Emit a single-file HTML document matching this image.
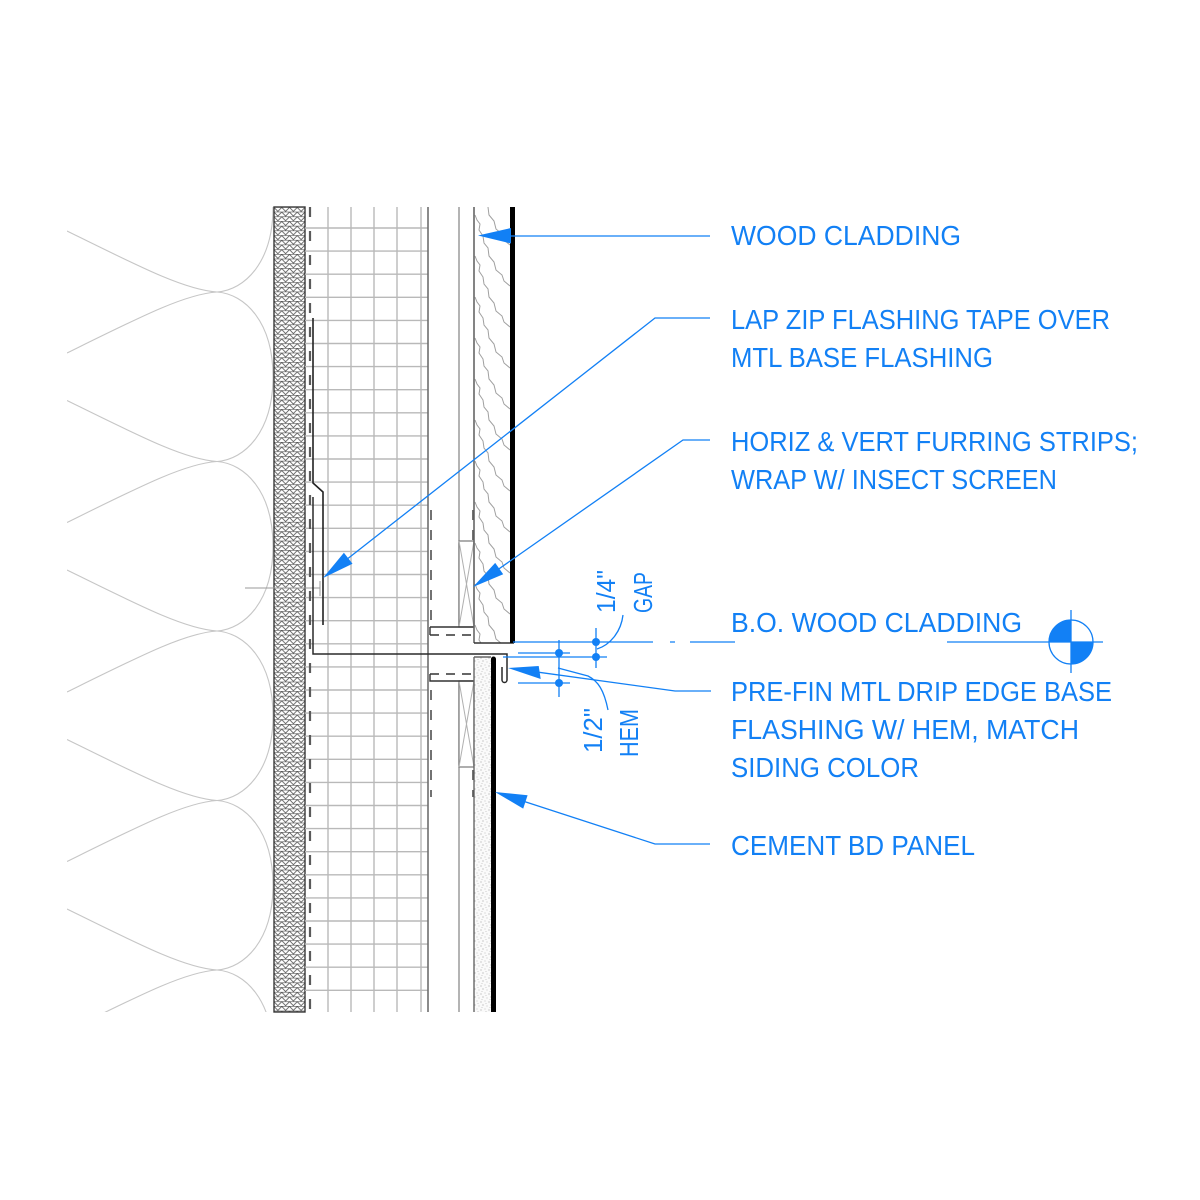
<!DOCTYPE html>
<html>
<head>
<meta charset="utf-8">
<style>
html,body{margin:0;padding:0;background:#fff;}
svg{display:block;}
</style>
</head>
<body>
<svg xmlns="http://www.w3.org/2000/svg" width="1200" height="1200" viewBox="0 0 1200 1200">
<defs>
  <pattern id="hatch" patternUnits="userSpaceOnUse" x="274" y="207" width="7.75" height="4.7">
    <rect width="7.75" height="4.7" fill="#fff"/>
    <path d="M0,0.2H7.75 M0,0.4 L3.875,4.4 L7.75,0.4" stroke="#4f4f4f" stroke-width="0.8" fill="none"/>
  </pattern>
  <pattern id="stip" patternUnits="userSpaceOnUse" width="8" height="8">
    <rect width="8" height="8" fill="#fafafa"/>
    <circle cx="1" cy="2" r="0.6" fill="#aaa"/>
    <circle cx="5" cy="1" r="0.55" fill="#b5b5b5"/>
    <circle cx="3" cy="5" r="0.6" fill="#a8a8a8"/>
    <circle cx="7" cy="6" r="0.55" fill="#b5b5b5"/>
    <circle cx="2" cy="7.5" r="0.5" fill="#bdbdbd"/>
    <circle cx="6" cy="3.5" r="0.5" fill="#bdbdbd"/>
  </pattern>
  <clipPath id="insClip"><rect x="67" y="207" width="207" height="805"/></clipPath>
  <clipPath id="woodClip"><rect x="474" y="207" width="36" height="436"/></clipPath>
  <path id="grain" d="M475,0 L477,5 L480,9 L479,15 L483,21 L484,28 L488,33 L489,41 L494,47 L496,55 L502,60 L504,66 L510,71" fill="none" stroke="#a0a0a0" stroke-width="1"/>
</defs>

<rect width="1200" height="1200" fill="#fff"/>

<!-- Batt insulation -->
<g clip-path="url(#insClip)" fill="none" stroke="#c6c6c6" stroke-width="1.1">
  <path d="M217,122.5 C245,124.5 273,152.5 273,207.25 C273,262 245,290 217,292"/>
  <path d="M217,292 C185,290 140,267 67,231"/>
  <path d="M217,292 C185,294 140,317 67,353"/>
  <path d="M217,292 C245,294 273,322 273,376.75 C273,431.5 245,459.5 217,461.5"/>
  <path d="M217,461.5 C185,459.5 140,436.5 67,400.5"/>
  <path d="M217,461.5 C185,463.5 140,486.5 67,522.5"/>
  <path d="M217,461.5 C245,463.5 273,491.5 273,546.25 C273,601 245,629 217,631"/>
  <path d="M217,631 C185,629 140,606 67,570"/>
  <path d="M217,631 C185,633 140,656 67,692"/>
  <path d="M217,631 C245,633 273,661 273,715.75 C273,770.5 245,798.5 217,800.5"/>
  <path d="M217,800.5 C185,798.5 140,775.5 67,739.5"/>
  <path d="M217,800.5 C185,802.5 140,825.5 67,861.5"/>
  <path d="M217,800.5 C245,802.5 273,830.5 273,885.25 C273,940 245,968 217,970"/>
  <path d="M217,970 C185,968 140,945 67,909"/>
  <path d="M217,970 C185,972 140,995 67,1031"/>
  <path d="M217,970 C245,972 273,1000 273,1054.75"/>
</g>

<!-- Sheathing -->
<rect x="274" y="207" width="31" height="805" fill="url(#hatch)" stroke="#3a3a3a" stroke-width="1.4"/>

<!-- Rigid insulation grid -->
<g stroke="#b9b9b9" stroke-width="1.4" fill="none">
  <path d="M328,207V1012 M351,207V1012 M374,207V1012 M397,207V1012 M421,207V1012"/>
  <path d="M305,228H428 M305,251.1H428 M305,274.2H428 M305,297.3H428 M305,320.4H428 M305,343.5H428 M305,366.6H428 M305,389.7H428 M305,412.8H428 M305,435.9H428 M305,459H428 M305,482.1H428 M305,505.2H428 M305,528.3H428 M305,551.4H428 M305,574.5H428 M305,597.6H428 M305,620.7H428 M305,643.8H428 M305,666.9H428 M305,690H428 M305,713.1H428 M305,736.2H428 M305,759.3H428 M305,782.4H428 M305,805.5H428 M305,828.6H428 M305,851.7H428 M305,874.8H428 M305,897.9H428 M305,921H428 M305,944.1H428 M305,967.2H428 M305,990.3H428"/>
</g>
<line x1="428" y1="207" x2="428" y2="1012" stroke="#6e6e6e" stroke-width="1.6"/>

<!-- WRB dashed -->
<line x1="310" y1="207" x2="310" y2="1012" stroke="#5a5a5a" stroke-width="2.2" stroke-dasharray="10 14"/>

<!-- Nail -->
<path d="M245,588H320 M320,581V596" stroke="#9a9a9a" stroke-width="1" fill="none"/>

<!-- Flashing tape -->
<polyline points="313,318 313,483 323,492 323,625" fill="none" stroke="#222" stroke-width="1.6"/>

<!-- Metal flashing with hem -->
<path d="M313,497 V654 H507 V680 A2.5,2.5 0 0 1 502,680 V667" fill="none" stroke="#2a2a2a" stroke-width="1.5"/>

<!-- Furring / cavity lines -->
<line x1="459" y1="207" x2="459" y2="627" stroke="#8c8c8c" stroke-width="1.3"/>
<line x1="459" y1="681" x2="459" y2="1012" stroke="#8c8c8c" stroke-width="1.3"/>

<!-- Upper furring box -->
<rect x="459" y="541" width="15" height="86" fill="#fff" stroke="#777" stroke-width="1.2"/>
<path d="M459,541 L474,627 M474,541 L459,627" stroke="#b0b0b0" stroke-width="1" fill="none"/>
<!-- Lower furring box -->
<rect x="459" y="681" width="15" height="86" fill="#fff" stroke="#777" stroke-width="1.2"/>
<path d="M459,681 L474,767 M474,681 L459,767" stroke="#b0b0b0" stroke-width="1" fill="none"/>

<!-- Horizontal furring strips -->
<path d="M430,627 H474 M430,627 V635" stroke="#333" stroke-width="1.4" fill="none"/>
<line x1="430" y1="635" x2="474" y2="635" stroke="#333" stroke-width="1.4" stroke-dasharray="9 7"/>
<line x1="430" y1="674" x2="474" y2="674" stroke="#333" stroke-width="1.4" stroke-dasharray="9 7"/>
<path d="M430,674 V681 H474" stroke="#333" stroke-width="1.4" fill="none"/>

<!-- Insect screen dashed -->
<g stroke="#444" stroke-width="1.5" stroke-dasharray="10 10" fill="none">
  <line x1="431" y1="510" x2="431" y2="627"/>
  <line x1="431" y1="690" x2="431" y2="797"/>
  <line x1="473" y1="510" x2="473" y2="541"/>
  <line x1="473" y1="770" x2="473" y2="797"/>
</g>

<!-- Wood cladding -->
<g clip-path="url(#woodClip)">
  <use href="#grain" y="133"/>
  <use href="#grain" y="174"/>
  <use href="#grain" y="215"/>
  <use href="#grain" y="256"/>
  <use href="#grain" y="297"/>
  <use href="#grain" y="338"/>
  <use href="#grain" y="379"/>
  <use href="#grain" y="420"/>
  <use href="#grain" y="461"/>
  <use href="#grain" y="502"/>
  <use href="#grain" y="543"/>
  <use href="#grain" y="584"/>
  <use href="#grain" y="625"/>
</g>
<line x1="474" y1="207" x2="474" y2="643" stroke="#666" stroke-width="1.6"/>
<line x1="474" y1="643" x2="514" y2="643" stroke="#333" stroke-width="1.4"/>
<rect x="510" y="207" width="5" height="436" fill="#000"/>

<!-- Cement board panel -->
<rect x="474" y="657" width="17" height="355" fill="url(#stip)"/>
<path d="M474,657 V1012 M474,657 H491" stroke="#666" stroke-width="1.4" fill="none"/>
<path d="M491,1012 V659 A2.5,2.5 0 0 1 496,659 V1012 Z" fill="#000"/>

<!-- ===== Blue annotation ===== -->
<g stroke="#1280f5" stroke-width="1.3" fill="none">
  <path d="M490,236 H710"/>
  <path d="M335,568.6 L655,318 H710"/>
  <path d="M485,578.6 L683,440 H710"/>
  <path d="M520,669.7 L675,691 H711"/>
  <path d="M507,795.9 L655,844 H710"/>
  <path d="M513,642 H653 M670,642 H675 M690,642 H735"/>
  <path d="M947,642 H1103 M1071,610 V673"/>
  <circle cx="1071" cy="642" r="22"/>
  <path d="M518,653 H570 M503,657 H607 M518,683 H570"/>
  <path d="M559,640 V697 M596,628 V668"/>
  <path d="M597,649 C610,645 621,632 623,615"/>
  <path d="M558,668 L588,676 C598,681 604,690 608,710"/>
</g>
<g fill="#1280f5">
  <polygon points="478,235.5 511,228 511,243.5"/>
  <polygon points="323,578 352.5,563.8 343.9,552.8"/>
  <polygon points="473,587 503.2,574.3 495.2,562.9"/>
  <polygon points="508,668 538.7,666 540.7,679"/>
  <polygon points="495,792 523.2,808.6 527.6,795.2"/>
  <circle cx="596" cy="642" r="4"/>
  <circle cx="596" cy="657" r="4"/>
  <circle cx="559" cy="653" r="4"/>
  <circle cx="559" cy="683" r="4"/>
  <path d="M1071,642 V620 A22,22 0 0 0 1049,642 Z"/>
  <path d="M1071,642 V664 A22,22 0 0 0 1093,642 Z"/>
</g>

<g fill="#1280f5" font-family="'Liberation Sans', Arial, sans-serif" font-size="27.5">
  <text x="731" y="245" textLength="230" lengthAdjust="spacingAndGlyphs">WOOD CLADDING</text>
  <text x="731" y="329" textLength="379" lengthAdjust="spacingAndGlyphs">LAP ZIP FLASHING TAPE OVER</text>
  <text x="731" y="367" textLength="262" lengthAdjust="spacingAndGlyphs">MTL BASE FLASHING</text>
  <text x="731" y="451" textLength="407" lengthAdjust="spacingAndGlyphs">HORIZ &amp; VERT FURRING STRIPS;</text>
  <text x="731" y="489" textLength="326" lengthAdjust="spacingAndGlyphs">WRAP W/ INSECT SCREEN</text>
  <text x="731" y="632" textLength="291" lengthAdjust="spacingAndGlyphs">B.O. WOOD CLADDING</text>
  <text x="731" y="701" textLength="381" lengthAdjust="spacingAndGlyphs">PRE-FIN MTL DRIP EDGE BASE</text>
  <text x="731" y="739" textLength="348" lengthAdjust="spacingAndGlyphs">FLASHING W/ HEM, MATCH</text>
  <text x="731" y="777" textLength="188" lengthAdjust="spacingAndGlyphs">SIDING COLOR</text>
  <text x="731" y="855" textLength="244" lengthAdjust="spacingAndGlyphs">CEMENT BD PANEL</text>
</g>
<g fill="#1280f5" font-family="'Liberation Sans', Arial, sans-serif" font-size="26">
  <text transform="translate(615,613) rotate(-90)" textLength="43" lengthAdjust="spacingAndGlyphs">1/4&quot;</text>
  <text transform="translate(652,613) rotate(-90)" textLength="41" lengthAdjust="spacingAndGlyphs">GAP</text>
  <text transform="translate(602,753) rotate(-90)" textLength="45" lengthAdjust="spacingAndGlyphs">1/2&quot;</text>
  <text transform="translate(638,757) rotate(-90)" textLength="48" lengthAdjust="spacingAndGlyphs">HEM</text>
</g>
</svg>
</body>
</html>
